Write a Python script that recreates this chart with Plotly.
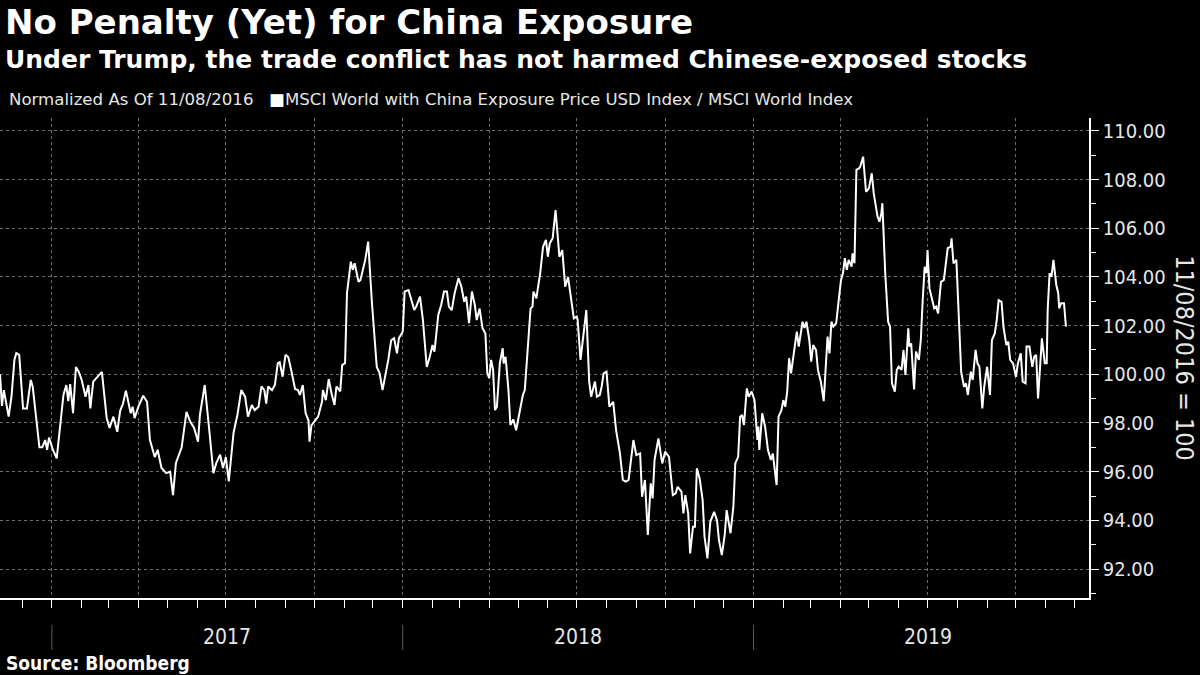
import plotly.graph_objects as go

# MSCI World with China Exposure / MSCI World, normalized to 100 on 11/08/2016
dates = [
    "2016-11-08", "2016-11-10", "2016-11-12", "2016-11-17", "2016-11-20", "2016-11-23", "2016-11-25", "2016-11-28",
    "2016-12-02", "2016-12-06", "2016-12-10", "2016-12-12", "2016-12-19", "2016-12-22", "2016-12-25", "2016-12-27",
    "2016-12-29", "2017-01-02", "2017-01-06", "2017-01-09", "2017-01-13", "2017-01-16", "2017-01-18", "2017-01-20",
    "2017-01-23", "2017-01-26", "2017-01-29", "2017-02-01", "2017-02-05", "2017-02-08", "2017-02-10", "2017-02-13",
    "2017-02-18", "2017-02-22", "2017-02-27", "2017-03-02", "2017-03-06", "2017-03-10", "2017-03-13", "2017-03-16",
    "2017-03-19", "2017-03-21", "2017-03-24", "2017-03-26", "2017-03-28", "2017-04-01", "2017-04-06", "2017-04-10",
    "2017-04-13", "2017-04-18", "2017-04-21", "2017-04-25", "2017-04-30", "2017-05-04", "2017-05-07", "2017-05-10",
    "2017-05-16", "2017-05-21", "2017-05-25", "2017-05-29", "2017-06-02", "2017-06-04", "2017-06-09", "2017-06-14",
    "2017-06-18", "2017-06-21", "2017-06-25", "2017-06-28", "2017-07-01", "2017-07-04", "2017-07-09", "2017-07-13",
    "2017-07-17", "2017-07-21", "2017-07-24", "2017-07-28", "2017-07-31", "2017-08-04", "2017-08-07", "2017-08-10",
    "2017-08-12", "2017-08-14", "2017-08-18", "2017-08-21", "2017-08-24", "2017-08-26", "2017-08-29", "2017-09-01",
    "2017-09-04", "2017-09-07", "2017-09-11", "2017-09-14", "2017-09-16", "2017-09-19", "2017-09-22", "2017-09-25",
    "2017-09-26", "2017-09-28", "2017-10-05", "2017-10-09", "2017-10-10", "2017-10-13", "2017-10-16", "2017-10-19",
    "2017-10-22", "2017-10-24", "2017-10-28", "2017-10-30", "2017-11-02", "2017-11-04", "2017-11-08", "2017-11-10",
    "2017-11-12", "2017-11-16", "2017-11-18", "2017-11-23", "2017-11-26", "2017-11-30", "2017-12-03", "2017-12-05",
    "2017-12-08", "2017-12-11", "2017-12-13", "2017-12-17", "2017-12-20", "2017-12-23", "2017-12-26", "2017-12-28",
    "2018-01-01", "2018-01-03", "2018-01-07", "2018-01-10", "2018-01-13", "2018-01-15", "2018-01-19", "2018-01-22",
    "2018-01-24", "2018-01-26", "2018-01-29", "2018-02-01", "2018-02-03", "2018-02-07", "2018-02-10", "2018-02-13",
    "2018-02-16", "2018-02-18", "2018-02-21", "2018-02-24", "2018-02-28", "2018-03-03", "2018-03-06", "2018-03-08",
    "2018-03-11", "2018-03-14", "2018-03-17", "2018-03-19", "2018-03-22", "2018-03-25", "2018-03-28", "2018-03-30",
    "2018-04-01", "2018-04-03", "2018-04-05", "2018-04-07", "2018-04-09", "2018-04-12", "2018-04-15", "2018-04-16",
    "2018-04-18", "2018-04-21", "2018-04-23", "2018-04-26", "2018-04-29", "2018-05-03", "2018-05-06", "2018-05-08",
    "2018-05-11", "2018-05-14", "2018-05-16", "2018-05-17", "2018-05-20", "2018-05-24", "2018-05-27", "2018-05-30",
    "2018-06-01", "2018-06-03", "2018-06-06", "2018-06-09", "2018-06-11", "2018-06-13", "2018-06-16", "2018-06-19",
    "2018-06-22", "2018-06-26", "2018-06-28", "2018-07-01", "2018-07-02", "2018-07-05", "2018-07-08", "2018-07-11",
    "2018-07-14", "2018-07-16", "2018-07-20", "2018-07-22", "2018-07-25", "2018-07-27", "2018-07-29", "2018-08-01",
    "2018-08-04", "2018-08-08", "2018-08-11", "2018-08-15", "2018-08-18", "2018-08-21", "2018-08-24", "2018-08-29",
    "2018-09-01", "2018-09-05", "2018-09-07", "2018-09-10", "2018-09-13", "2018-09-16", "2018-09-18", "2018-09-20",
    "2018-09-24", "2018-09-28", "2018-10-01", "2018-10-05", "2018-10-09", "2018-10-12", "2018-10-14", "2018-10-18",
    "2018-10-20", "2018-10-22", "2018-10-25", "2018-10-27", "2018-10-30", "2018-11-01", "2018-11-03", "2018-11-06",
    "2018-11-09", "2018-11-11", "2018-11-14", "2018-11-17", "2018-11-21", "2018-11-24", "2018-11-26", "2018-11-29",
    "2018-12-02", "2018-12-04", "2018-12-08", "2018-12-11", "2018-12-13", "2018-12-16", "2018-12-18", "2018-12-20",
    "2018-12-22", "2018-12-25", "2018-12-27", "2018-12-30", "2019-01-02", "2019-01-05", "2019-01-06", "2019-01-07",
    "2019-01-10", "2019-01-13", "2019-01-16", "2019-01-19", "2019-01-21", "2019-01-25", "2019-01-27", "2019-01-30",
    "2019-02-01", "2019-02-03", "2019-02-05", "2019-02-07", "2019-02-09", "2019-02-13", "2019-02-15", "2019-02-17",
    "2019-02-20", "2019-02-21", "2019-02-23", "2019-02-25", "2019-02-28", "2019-03-02", "2019-03-04", "2019-03-07",
    "2019-03-09", "2019-03-12", "2019-03-15", "2019-03-17", "2019-03-19", "2019-03-21", "2019-03-23", "2019-03-25",
    "2019-03-28", "2019-03-31", "2019-04-02", "2019-04-04", "2019-04-06", "2019-04-08", "2019-04-10", "2019-04-13",
    "2019-04-14", "2019-04-16", "2019-04-18", "2019-04-21", "2019-04-22", "2019-04-25", "2019-04-27", "2019-04-28",
    "2019-05-01", "2019-05-04", "2019-05-06", "2019-05-08", "2019-05-10", "2019-05-12", "2019-05-14", "2019-05-15",
    "2019-05-16", "2019-05-18", "2019-05-21", "2019-05-23", "2019-05-25", "2019-05-28", "2019-05-30", "2019-06-01",
    "2019-06-04", "2019-06-06", "2019-06-08", "2019-06-11", "2019-06-12", "2019-06-14", "2019-06-17", "2019-06-19",
    "2019-06-22", "2019-06-24", "2019-06-26", "2019-06-28", "2019-06-30", "2019-07-01", "2019-07-03", "2019-07-06",
    "2019-07-08", "2019-07-10", "2019-07-12", "2019-07-15", "2019-07-18", "2019-07-22", "2019-07-25", "2019-07-26",
    "2019-07-28", "2019-07-31", "2019-08-03", "2019-08-05", "2019-08-08", "2019-08-10", "2019-08-12", "2019-08-15",
    "2019-08-17", "2019-08-18", "2019-08-20", "2019-08-22", "2019-08-24", "2019-08-27", "2019-08-29", "2019-09-01",
    "2019-09-04", "2019-09-06", "2019-09-09", "2019-09-11", "2019-09-13", "2019-09-16", "2019-09-18", "2019-09-21",
    "2019-09-23", "2019-09-25", "2019-09-28", "2019-10-01", "2019-10-03", "2019-10-06", "2019-10-08", "2019-10-11",
    "2019-10-12", "2019-10-15", "2019-10-18", "2019-10-20", "2019-10-22", "2019-10-24", "2019-10-26", "2019-10-28",
    "2019-10-31", "2019-11-02", "2019-11-03", "2019-11-05", "2019-11-07", "2019-11-09", "2019-11-12", "2019-11-14",
    "2019-11-15", "2019-11-17", "2019-11-20", "2019-11-22",
]
values = [
    100.00, 98.70, 99.35, 98.26, 99.10, 100.60, 100.87, 100.80,
    98.60, 98.60, 99.77, 99.50, 97.00, 97.00, 97.30, 96.90,
    97.40, 96.90, 96.55, 97.60, 99.15, 99.56, 98.90, 99.60,
    98.40, 100.30, 100.10, 99.77, 99.08, 99.56, 98.60, 99.70,
    99.90, 100.10, 98.20, 97.80, 98.26, 97.64, 98.50, 98.80,
    99.33, 98.94, 98.40, 98.67, 98.20, 98.67, 99.12, 98.87,
    97.30, 96.60, 96.90, 96.15, 95.94, 96.00, 95.04, 96.35,
    97.00, 98.46, 98.05, 97.80, 97.23, 98.33, 99.56, 97.60,
    95.94, 96.35, 96.70, 96.15, 96.60, 95.60, 97.60, 98.33,
    99.35, 99.08, 98.26, 98.74, 98.53, 98.67, 99.50, 99.35,
    98.80, 99.50, 99.35, 99.56, 100.46, 100.50, 99.90, 100.80,
    100.70, 100.17, 99.40, 99.35, 99.15, 99.56, 98.40, 98.10,
    97.23, 97.90, 98.26, 98.87, 99.35, 98.94, 99.80, 99.20,
    98.74, 99.50, 99.30, 100.38, 100.46, 103.33, 104.63, 104.29,
    104.56, 103.80, 103.88, 104.70, 105.45, 102.92, 101.27, 100.30,
    100.04, 99.35, 99.77, 100.60, 101.40, 101.48, 100.86, 101.48,
    101.75, 103.40, 103.46, 103.05, 102.64, 102.78, 103.19, 102.23,
    101.40, 100.30, 100.70, 101.20, 100.93, 102.44, 102.85, 103.40,
    103.40, 102.78, 102.64, 103.33, 103.95, 103.60, 102.98, 103.19,
    102.10, 103.40, 102.85, 102.23, 102.70, 101.90, 101.68, 100.04,
    99.84, 100.59, 100.18, 98.53, 98.67, 100.45, 101.07, 100.45,
    100.72, 99.35, 97.92, 98.15, 97.70, 98.46, 99.15, 99.35,
    101.00, 102.70, 102.78, 103.40, 103.12, 104.15, 105.24, 105.52,
    104.83, 105.38, 105.59, 106.75, 105.80, 104.83, 105.10, 103.60,
    104.00, 102.70, 102.30, 102.37, 102.23, 100.59, 101.55, 102.64,
    99.70, 99.08, 99.70, 99.08, 99.15, 99.50, 100.04, 100.11,
    98.67, 98.87, 97.70, 96.75, 95.66, 95.59, 95.66, 97.30,
    96.68, 96.75, 94.97, 95.66, 93.40, 95.52, 94.90, 96.48,
    97.37, 96.34, 96.82, 96.61, 95.04, 95.11, 95.38, 95.18,
    94.29, 95.04, 94.29, 92.64, 93.74, 93.74, 96.14, 95.70,
    94.84, 93.33, 92.44, 93.94, 94.35, 94.00, 93.19, 92.57,
    93.40, 94.42, 93.47, 94.56, 96.34, 96.61, 98.26, 98.33,
    97.92, 99.42, 99.08, 99.29, 98.94, 97.30, 97.85, 96.89,
    98.40, 97.85, 96.89, 96.48, 96.75, 95.45, 98.26, 98.53,
    98.94, 98.67, 99.29, 100.66, 100.04, 101.20, 101.75, 101.14,
    101.82, 102.16, 101.90, 102.16, 101.41, 100.52, 101.20, 101.00,
    100.18, 99.70, 98.90, 100.18, 101.55, 100.86, 102.16, 101.96,
    102.10, 103.19, 103.88, 104.15, 104.77, 104.29, 104.70, 104.42,
    104.97, 104.56, 108.40, 108.47, 108.53, 108.94, 108.12, 107.50,
    107.64, 108.26, 107.44, 107.03, 106.48, 106.27, 106.62, 107.03,
    105.93, 104.15, 102.16, 101.96, 99.63, 99.29, 100.18, 100.31,
    100.18, 101.00, 99.97, 101.89, 101.14, 101.27, 99.38, 100.93,
    100.59, 101.41, 103.05, 104.42, 104.15, 105.11, 103.53, 103.05,
    102.71, 102.78, 102.50, 103.80, 103.88, 105.18, 105.24, 105.59,
    104.56, 104.70, 102.30, 100.10, 99.49, 99.63, 99.15, 100.11,
    99.77, 100.31, 101.00, 100.45, 100.31, 98.60, 99.49, 100.31,
    99.15, 101.41, 101.68, 102.23, 103.05, 102.98, 101.96, 101.20,
    101.34, 100.59, 100.45, 99.90, 100.45, 100.86, 99.70, 99.63,
    101.14, 101.14, 100.31, 100.72, 100.80, 99.01, 100.31, 101.48,
    100.45, 100.45, 102.64, 104.15, 104.01, 104.70, 103.67, 103.33,
    102.71, 102.92, 102.92, 101.96,
]

year_labels = ["2017", "2018", "2019"]
year_mid = ["2017-07-02", "2018-07-02", "2019-07-02"]
year_start = ["2017-01-01", "2018-01-01", "2019-01-01"]

title = "No Penalty (Yet) for China Exposure"
subtitle = "Under Trump, the trade conflict has not harmed Chinese-exposed stocks"
note = "Normalized As Of 11/08/2016"
series_name = "MSCI World with China Exposure Price USD Index / MSCI World Index"

BG = "#000000"
FG = "#ffffff"
TXT = "#e6e6e6"
GRID = "#6e6e6e"
BOLD = "DejaVu Sans"
REG = "DejaVu Sans"
NARROW = "DejaVu Sans Condensed, Liberation Sans Narrow, Arial Narrow, sans-serif"

fig = go.Figure()
fig.add_trace(
    go.Scatter(
        x=dates,
        y=values,
        mode="lines",
        name=series_name,
        line=dict(color=FG, width=2),
        showlegend=False,
    )
)

fig.update_layout(
    width=1200,
    height=675,
    paper_bgcolor=BG,
    plot_bgcolor=BG,
    margin=dict(l=0, r=111, t=118, b=77),
    font=dict(family=NARROW, color=TXT, size=20),
    showlegend=False,
)

fig.update_xaxes(
    type="date",
    range=["2016-11-08", "2019-12-16"],
    showline=True,
    linecolor=FG,
    linewidth=1.5,
    showticklabels=False,
    ticks="outside",
    ticklen=8,
    tickcolor=FG,
    tick0="2017-01-01",
    dtick="M3",
    showgrid=True,
    gridcolor=GRID,
    griddash="3px,3px",
    gridwidth=1,
    minor=dict(dtick="M1", tick0="2016-12-01", ticks="outside", ticklen=8, tickcolor=FG, showgrid=False),
    zeroline=False,
)

fig.update_yaxes(
    side="right",
    range=[90.81, 110.53],
    tick0=0,
    dtick=2,
    tickformat=".2f",
    showline=True,
    linecolor=FG,
    linewidth=1.5,
    ticks="outside",
    ticklen=8,
    tickcolor=FG,
    tickfont=dict(family=NARROW, size=20, color=TXT),
    showgrid=True,
    gridcolor=GRID,
    griddash="3px,3px",
    gridwidth=1,
    minor=dict(dtick=1, ticks="outside", ticklen=5, tickcolor=FG, showgrid=False),
    zeroline=False,
)

# year labels and separators under the axis
for lab, mid in zip(year_labels, year_mid):
    fig.add_annotation(
        x=mid, y=-0.081, xref="x", yref="paper", text=lab, showarrow=False,
        font=dict(family=NARROW, size=21, color=TXT), xanchor="center", yanchor="middle",
    )
for ys in year_start:
    fig.add_shape(
        type="line", xref="x", yref="paper", x0=ys, x1=ys, y0=-0.056, y1=-0.108,
        line=dict(color="#5a5a5a", width=1),
    )

# headings
fig.add_annotation(
    x=0.003, y=1.2, xref="paper", yref="paper", text=f"<b>{title}</b>", showarrow=False,
    font=dict(family=BOLD, size=34, color=FG), xanchor="left", yanchor="middle",
)
fig.add_annotation(
    x=0.003, y=1.121, xref="paper", yref="paper", text=f"<b>{subtitle}</b>", showarrow=False,
    font=dict(family=BOLD, size=25, color=FG), xanchor="left", yanchor="middle",
)
fig.add_annotation(
    x=0.006, y=1.0375, xref="paper", yref="paper",
    text=f"{note}&nbsp;&nbsp;&nbsp;<span style='color:#ffffff'>■</span>{series_name}", showarrow=False,
    font=dict(family=REG, size=16.6, color=TXT), xanchor="left", yanchor="middle",
)

# right-hand axis caption
fig.add_annotation(
    x=1.088, y=0.5, xref="paper", yref="paper", text="11/08/2016 = 100", showarrow=False,
    textangle=90, font=dict(family=NARROW, size=25, color=TXT), xanchor="center", yanchor="middle",
)

fig.add_annotation(
    x=0.004, y=-0.135, xref="paper", yref="paper", text="<b>Source: Bloomberg</b>", showarrow=False,
    font=dict(family=NARROW, size=19, color=FG), xanchor="left", yanchor="middle",
)

fig.write_html(
    "out.html",
    config={"displayModeBar": False},
    post_script="document.body.style.margin='0';document.body.style.overflow='hidden';",
)
